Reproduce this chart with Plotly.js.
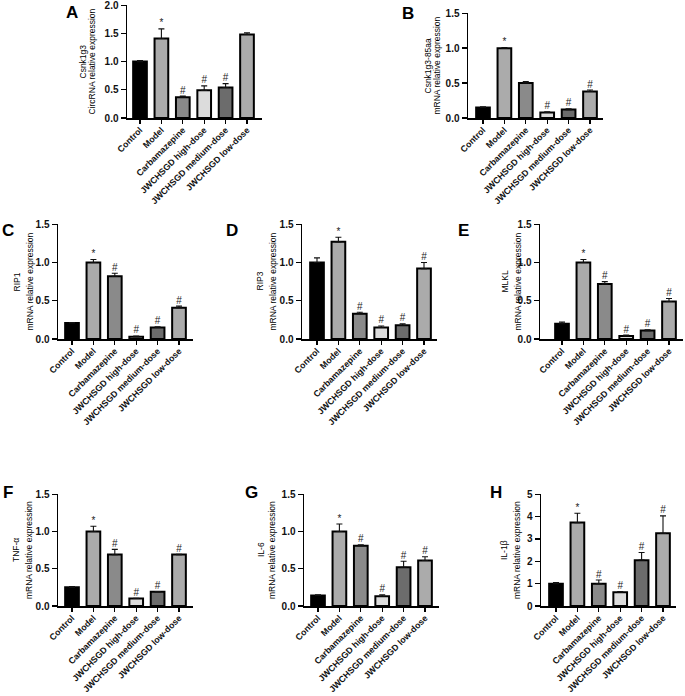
<!DOCTYPE html>
<html>
<head>
<meta charset="utf-8">
<script src="https://cdn.plot.ly/plotly-3.0.1.min.js"></script>
<style>html,body{margin:0;padding:0;background:#fff;}#chart{width:685px;height:696px;}</style>
</head>
<body>
<div id="chart"></div>
<script>
// ---- Data ----
const categories = ['Control','Model','Carbamazepine','JWCHSGD high-dose','JWCHSGD medium-dose','JWCHSGD low-dose'];

const valuesA = [1.00, 1.41, 0.37, 0.49, 0.54, 1.48];
const errorsA = [0.02, 0.17, 0.02, 0.08, 0.07, 0.03];
const marksA  = ['', '*', '#', '#', '#', ''];

const valuesB = [0.15, 1.00, 0.50, 0.08, 0.12, 0.38];
const errorsB = [0.01, 0.01, 0.02, 0.01, 0.01, 0.02];
const marksB  = ['', '*', '', '#', '#', '#'];

const valuesC = [0.21, 1.00, 0.82, 0.03, 0.15, 0.41];
const errorsC = [0.005, 0.04, 0.04, 0.01, 0.01, 0.02];
const marksC  = ['', '*', '#', '#', '#', '#'];

const valuesD = [1.00, 1.27, 0.33, 0.15, 0.18, 0.92];
const errorsD = [0.06, 0.06, 0.02, 0.02, 0.02, 0.08];
const marksD  = ['', '*', '#', '#', '#', '#'];

const valuesE = [0.20, 1.00, 0.72, 0.04, 0.11, 0.49];
const errorsE = [0.02, 0.04, 0.03, 0.01, 0.01, 0.04];
const marksE  = ['', '*', '#', '#', '#', '#'];

const valuesF = [0.25, 1.00, 0.69, 0.10, 0.19, 0.69];
const errorsF = [0.01, 0.07, 0.07, 0.005, 0.005, 0.005];
const marksF  = ['', '*', '#', '#', '#', '#'];

const valuesG = [0.14, 1.00, 0.81, 0.13, 0.52, 0.61];
const errorsG = [0.01, 0.10, 0.01, 0.02, 0.08, 0.05];
const marksG  = ['', '*', '#', '#', '#', '#'];

const valuesH = [1.00, 3.73, 1.00, 0.62, 2.05, 3.25];
const errorsH = [0.05, 0.42, 0.16, 0.03, 0.34, 0.78];
const marksH  = ['', '*', '#', '#', '#', '#'];

const geneLabels = ['Csnk1g3','Csnk1g3-85aa','RIP1','RIP3','MLKL','TNF-α','IL-6','IL-1β'];
const measureLabels = ['CircRNA relative expression','mRNA relative expression','mRNA relative expression','mRNA relative expression','mRNA relative expression','mRNA relative expression','mRNA relative expression','mRNA relative expression'];
const panelLetters = ['A','B','C','D','E','F','G','H'];
const yMax = [2, 1.5, 1.5, 1.5, 1.5, 1.5, 1.5, 5];
const yStep = [0.5, 0.5, 0.5, 0.5, 0.5, 0.5, 0.5, 1];

// ---- Styling / geometry ----
const W = 685, H = 696;
const barColors = ['#000000', '#ababab', '#8a8a8a', '#dcdcdc', '#6c6c6c', '#ababab'];
const geo = [
  {x0:127, x1:262, y0:5,   y1:118, off:13, letter:[72,12],  t1:82,  t2:91},
  {x0:468, x1:603, y0:13,  y1:118, off:15, letter:[408,14], t1:427, t2:436},
  {x0:58,  x1:193, y0:224, y1:339, off:14, letter:[8,231],  t1:16,  t2:29},
  {x0:302, x1:437, y0:224, y1:339, off:15, letter:[232,231],t1:259, t2:272},
  {x0:540, x1:683, y0:224, y1:339, off:22, letter:[463,231],t1:504, t2:517},
  {x0:58,  x1:193, y0:494, y1:606, off:14, letter:[8,492],  t1:16,  t2:29},
  {x0:304, x1:439, y0:494, y1:606, off:14, letter:[251,492],t1:261, t2:272},
  {x0:541, x1:676, y0:494, y1:606, off:15, letter:[496,492],t1:504, t2:517}
];
const spacing = 21.4;

const allValues = [valuesA, valuesB, valuesC, valuesD, valuesE, valuesF, valuesG, valuesH];
const allErrors = [errorsA, errorsB, errorsC, errorsD, errorsE, errorsF, errorsG, errorsH];
const allMarks  = [marksA, marksB, marksC, marksD, marksE, marksF, marksG, marksH];

const FONT = 'Liberation Sans, Arial, sans-serif';
const traces = [];
const layout = {
  width: W, height: H,
  margin: {l:0, r:0, t:0, b:0},
  paper_bgcolor: '#fff', plot_bgcolor: 'rgba(0,0,0,0)',
  showlegend: false,
  annotations: [],
  font: {family: FONT, color: '#111'}
};

for (let p = 0; p < 8; p++) {
  const g = geo[p];
  const sfx = p === 0 ? '' : String(p + 1);
  const xa = 'x' + sfx, ya = 'y' + sfx;
  const w = g.x1 - g.x0;
  const lo = -g.off / spacing;
  const hi = lo + w / spacing;

  traces.push({
    type: 'bar', x: categories, y: allValues[p], xaxis: xa, yaxis: ya,
    width: 0.64,
    marker: {color: barColors, line: {color: '#000', width: 2}},
    error_y: {type: 'data', symmetric: false, array: allErrors[p],
              arrayminus: allValues[p].map(() => 0), color: '#111', thickness: 1.1, width: 3},
    hoverinfo: 'none'
  });
  traces.push({
    type: 'scatter', mode: 'text', x: categories,
    y: allValues[p].map((v, i) => v + allErrors[p][i]),
    text: allMarks[p], textposition: 'top center',
    textfont: {family: FONT, size: 10, color: '#222'},
    xaxis: xa, yaxis: ya, cliponaxis: false, hoverinfo: 'none'
  });

  layout['xaxis' + sfx] = {
    domain: [g.x0 / W, g.x1 / W], anchor: ya,
    range: [lo, hi], type: 'category',
    showline: true, linecolor: '#000', linewidth: 1.5,
    ticks: 'outside', ticklen: 4, tickwidth: 1.3, tickcolor: '#000',
    tickangle: -45, showgrid: false, zeroline: false,
    ticklabelstandoff: -2,
    tickfont: {family: FONT, size: 8.8, weight: 'bold', color: '#111'}
  };
  layout['yaxis' + sfx] = {
    domain: [1 - g.y1 / H, 1 - g.y0 / H], anchor: xa,
    range: [0, yMax[p] * 1.002], dtick: yStep[p], tick0: 0,
    tickformat: yStep[p] < 1 ? '.1f' : 'd',
    showline: true, linecolor: '#000', linewidth: 1.5,
    ticks: 'outside', ticklen: 5, tickwidth: 1.3, tickcolor: '#000',
    showgrid: false, zeroline: false, ticklabeloverflow: 'allow',
    tickfont: {family: FONT, size: 10, weight: 'bold', color: '#111'}
  };

  const cy = 1 - ((g.y0 + g.y1) / 2) / H;
  layout.annotations.push({
    xref: 'paper', yref: 'paper', x: g.t1 / W, y: cy, text: geneLabels[p],
    textangle: -90, showarrow: false, xanchor: 'center', yanchor: 'middle',
    font: {family: FONT, size: 8.5, color: '#000'}
  });
  layout.annotations.push({
    xref: 'paper', yref: 'paper', x: g.t2 / W, y: cy, text: measureLabels[p],
    textangle: -90, showarrow: false, xanchor: 'center', yanchor: 'middle',
    font: {family: FONT, size: 8.5, color: '#000'}
  });
  layout.annotations.push({
    xref: 'paper', yref: 'paper', x: g.letter[0] / W, y: 1 - g.letter[1] / H,
    text: '<b>' + panelLetters[p] + '</b>', showarrow: false,
    xanchor: 'center', yanchor: 'middle',
    font: {family: FONT, size: 17, color: '#000'}
  });
}

Plotly.newPlot('chart', traces, layout, {staticPlot: true, displayModeBar: false});
</script>
</body>
</html>
